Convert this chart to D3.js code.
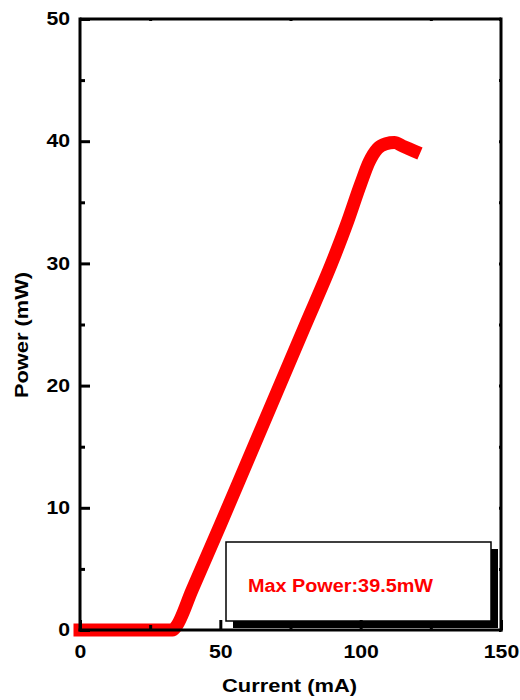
<!DOCTYPE html>
<html><head><meta charset="utf-8">
<script src="https://cdn.jsdelivr.net/npm/d3@7"></script>
<style>body{margin:0;background:#fff}svg{display:block;font-family:"Liberation Sans",Arial,sans-serif}</style>
</head><body>
<script>
const currentMA = [0,10,20,30,33,34,40,50,60,70,80,90,95,100,103,106,109,112,115,119];
const powerMW  = [0,0,0,0,0,0.2,3.3,8.6,14.0,19.4,24.8,30.2,33.2,36.5,38.3,39.4,39.8,39.9,39.6,39.2];
const xTicks = [0,50,100,150];
const yTicks = [0,10,20,30,40,50];
const xMinor = [25,75,125];
const yMinor = [5,15,25,35,45];
const annotation = "Max Power:39.5mW";

(function(){
const W=520,H=700, L=80,R=501,T=19,B=630;
const svg=d3.select("body").append("svg").attr("width",W).attr("height",H);
const x=d3.scaleLinear().domain([0,150]).range([L,R]);
const y=d3.scaleLinear().domain([0,50]).range([B,T]);

function stretch(sel,f){ sel.each(function(){ const n=this.getComputedTextLength(); d3.select(this).attr("textLength",n*f).attr("lengthAdjust","spacingAndGlyphs"); }); }

const data=currentMA.map((c,i)=>[c,powerMW[i]]);
svg.append("path").datum(data)
  .attr("d",d3.line().curve(d3.curveMonotoneX).x(d=>x(d[0])).y(d=>y(d[1])))
  .attr("fill","none").attr("stroke","#ff0000").attr("stroke-width",13)
  .attr("stroke-linecap","square").attr("stroke-linejoin","round");

const bx=226,by=542,bw=265,bh=79;
svg.append("rect").attr("x",bx+7).attr("y",by+7).attr("width",bw).attr("height",bh).attr("fill","#000");
svg.append("rect").attr("x",bx).attr("y",by).attr("width",bw).attr("height",bh).attr("fill","#fff").attr("stroke","#000").attr("stroke-width",1.5);
svg.append("text").attr("x",248).attr("y",592).attr("fill","#ff0000").attr("font-weight","bold").attr("font-size",18)
  .attr("textLength",185).attr("lengthAdjust","spacingAndGlyphs").text(annotation);

const gBottom=svg.append("g").attr("transform",`translate(0,${B})`)
  .call(d3.axisBottom(x).tickValues(xTicks).tickSize(-10).tickPadding(15).tickFormat(d3.format("d")));
const gBottomMinor=svg.append("g").attr("transform",`translate(0,${B})`)
  .call(d3.axisBottom(x).tickValues(xMinor).tickSize(-5).tickFormat(""));
const gLeft=svg.append("g").attr("transform",`translate(${L},0)`)
  .call(d3.axisLeft(y).tickValues(yTicks).tickSize(-10).tickPadding(10).tickFormat(d3.format("d")));
const gLeftMinor=svg.append("g").attr("transform",`translate(${L},0)`)
  .call(d3.axisLeft(y).tickValues(yMinor).tickSize(-5).tickFormat(""));
const gTop=svg.append("g").attr("transform",`translate(0,${T})`)
  .call(d3.axisTop(x).tickValues(xMinor).tickSize(-2).tickFormat(""));
const gRight=svg.append("g").attr("transform",`translate(${R},0)`)
  .call(d3.axisRight(y).tickValues(yMinor.concat(yTicks)).tickSize(-2).tickFormat(""));
[gBottom,gBottomMinor,gLeft,gLeftMinor,gTop,gRight].forEach(g=>{
  g.selectAll(".domain").attr("stroke","#000").attr("stroke-width",3);
  g.selectAll(".tick line").attr("stroke","#000").attr("stroke-width",3);
  g.selectAll("text").attr("fill","#000").attr("font-size",18).attr("font-weight","bold")
   .attr("font-family","'Liberation Sans',Arial,sans-serif");
});
stretch(gBottom.selectAll("text"),1.18);
stretch(gLeft.selectAll("text"),1.18);
gTop.select(".domain").attr("d",`M${L},0H${R}`);
gRight.select(".domain").attr("d",`M0,${T-1.5}V${B+1.5}`);
gBottom.select(".domain").attr("d",`M${L-1.5},0H${R+1.5}`);
gBottomMinor.select(".domain").remove();
gLeftMinor.select(".domain").remove();
gLeft.select(".domain").attr("d",`M0,${T-1.5}V${B+1.5}`);

svg.append("text").attr("x",289.5).attr("y",692).attr("text-anchor","middle")
  .attr("font-weight","bold").attr("font-size",19).attr("textLength",135).attr("lengthAdjust","spacingAndGlyphs").text("Current (mA)");
svg.append("text").attr("transform",`translate(28,335) rotate(-90)`).attr("text-anchor","middle")
  .attr("font-weight","bold").attr("font-size",19).attr("textLength",126).attr("lengthAdjust","spacingAndGlyphs").text("Power (mW)");
})();
</script>
</body></html>
